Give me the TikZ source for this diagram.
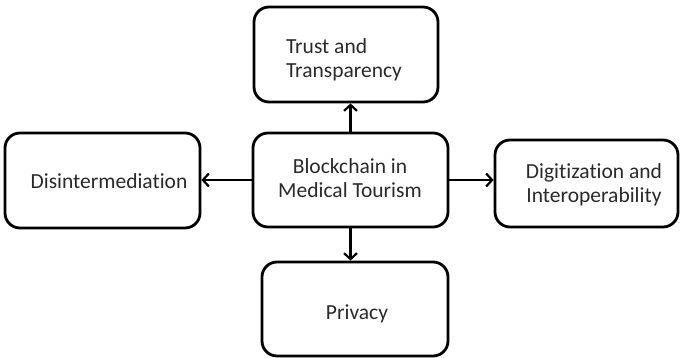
\documentclass[tikz,border=0pt]{standalone}
\usepackage{fontspec}
\setmainfont[Ligatures=NoCommon]{Carlito}
\usetikzlibrary{arrows.meta}
\definecolor{txt}{HTML}{2A2A2A}
\tikzset{
  box/.style={draw=black, line width=2.8pt, rounded corners=15pt, fill=white, inner sep=0pt},
  lbl/.style={text=txt, font=\fontsize{21.5}{23.5}\selectfont, inner sep=0pt},
  conn/.style={line width=2.4pt, -{Straight Barb[length=6pt,width=13pt,line width=2.2pt]}}
}
\begin{document}
\begin{tikzpicture}[x=1pt,y=-1pt]
\useasboundingbox (0,0) rectangle (681,358);
\node[box, minimum width=184pt, minimum height=95pt] (t) at (346,54.5) {};
\node[box, minimum width=195pt, minimum height=94pt] (c) at (350.5,180) {};
\node[box, minimum width=195pt, minimum height=95pt] (l) at (102.5,180.5) {};
\node[box, minimum width=183pt, minimum height=87pt] (r) at (586.5,183.5) {};
\node[box, minimum width=186pt, minimum height=94pt] (b) at (355,309) {};
\node[lbl, align=left] (tl) at (344,60) {Trust and\\Transparency};
\node[lbl, align=center] (cl) at (350,178) {Blockchain in\\Medical Tourism};
\node[lbl] (ll) at (109,181) {Disintermediation};
\node[lbl, align=center] (rl) at (594,185) {Digitization and\\Interoperability};
\node[lbl] (bl) at (357,314) {Privacy};
\draw[conn] (c.north) -- (c.north |- t.south);
\draw[conn] (c.west) -- (c.west -| l.east);
\draw[conn] (c.east) -- (c.east -| r.west);
\draw[conn] (c.south) -- (c.south |- b.north);
\end{tikzpicture}
\end{document}
